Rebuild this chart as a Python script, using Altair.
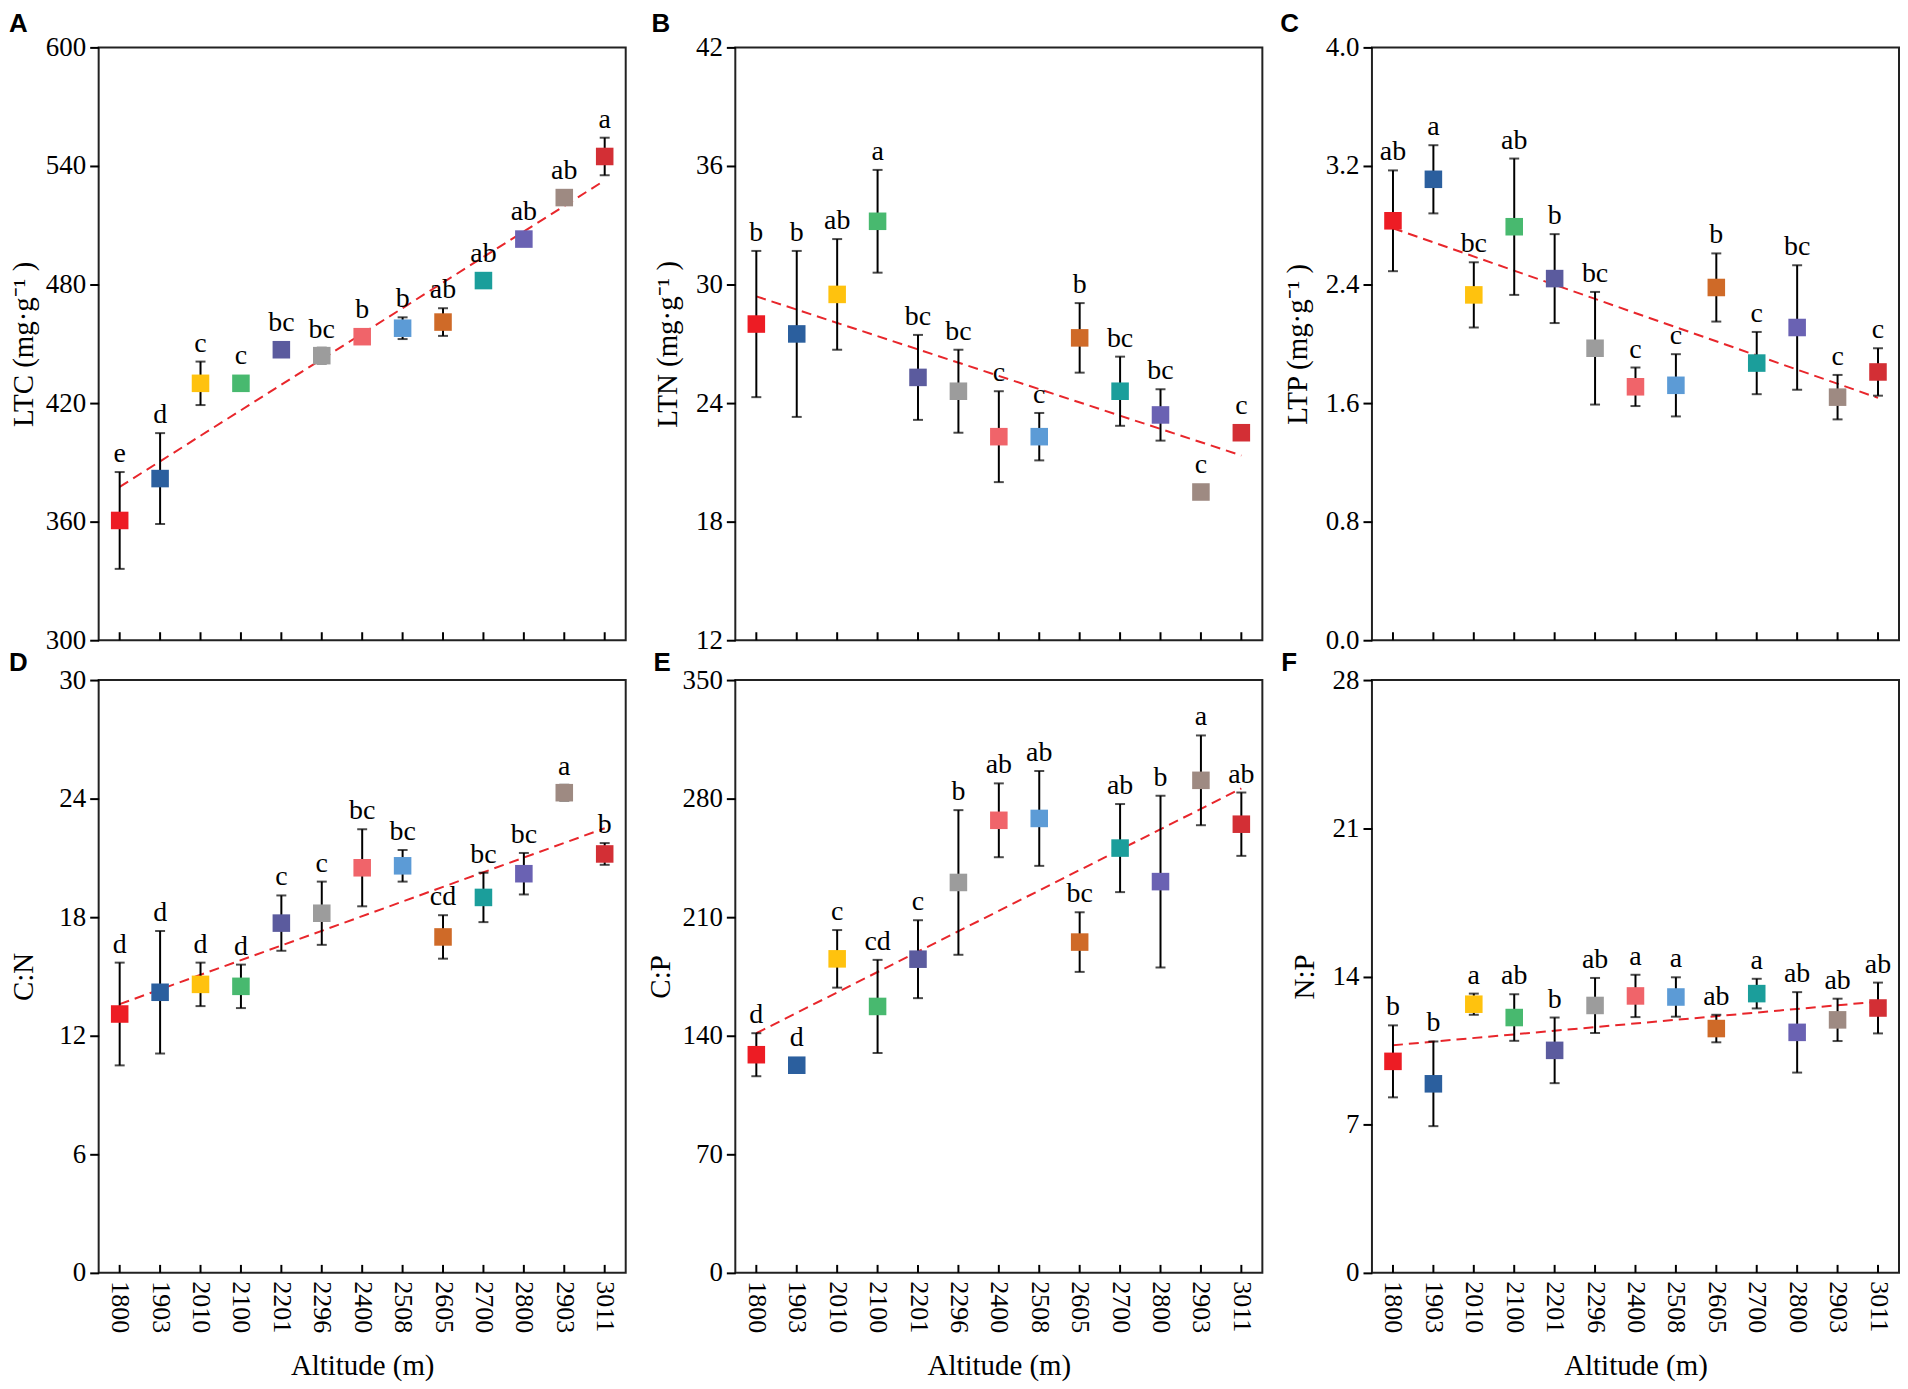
import altair as alt
import pandas as pd

altitudes = ["1800", "1903", "2010", "2100", "2201", "2296", "2400",
             "2508", "2605", "2700", "2800", "2903", "3011"]
colors = ["#ED1C24", "#2B5F9E", "#FFC20E", "#48B96F", "#5B5B9E", "#9C9C9C",
          "#F0646A", "#5C9BD6", "#CF6A28", "#1B9E9B", "#6A62B3", "#9E8A82", "#D32F35"]

# Panel A: LTC
ltc_mean = [360.6, 381.8, 430.0, 430.0, 447.0, 444.0, 453.6, 457.9, 461.0, 482.0, 503.0, 524.0, 544.8]
ltc_se = [24.5, 23.0, 11.0, 0, 0, 4.0, 0, 5.5, 7.0, 0, 0, 0, 9.5]
ltc_sig = ["e", "d", "c", "c", "bc", "bc", "b", "b", "ab", "ab", "ab", "ab", "a"]
ltc_trend = [377.6, 532.7]

# Panel B: LTN
ltn_mean = [28.0, 27.5, 29.5, 33.2, 25.3, 24.6, 22.3, 22.3, 27.3, 24.6, 23.4, 19.5, 22.5]
ltn_se = [3.7, 4.2, 2.8, 2.6, 2.15, 2.1, 2.3, 1.2, 1.76, 1.75, 1.3, 0, 0]
ltn_sig = ["b", "b", "ab", "a", "bc", "bc", "c", "c", "b", "bc", "bc", "c", "c"]
ltn_trend = [29.4, 21.35]

# Panel C: LTP
ltp_mean = [2.83, 3.11, 2.33, 2.79, 2.44, 1.97, 1.71, 1.72, 2.38, 1.87, 2.11, 1.64, 1.81]
ltp_se = [0.34, 0.23, 0.22, 0.46, 0.30, 0.38, 0.13, 0.21, 0.23, 0.21, 0.42, 0.15, 0.16]
ltp_sig = ["ab", "a", "bc", "ab", "b", "bc", "c", "c", "b", "c", "bc", "c", "c"]
ltp_trend = [2.78, 1.635]

# Panel D: C:N
cn_mean = [13.1, 14.2, 14.6, 14.5, 17.7, 18.2, 20.5, 20.6, 17.0, 19.0, 20.2, 24.3, 21.2]
cn_se = [2.6, 3.1, 1.1, 1.1, 1.4, 1.6, 1.95, 0.8, 1.1, 1.25, 1.05, 0.4, 0.55]
cn_sig = ["d", "d", "d", "d", "c", "c", "bc", "bc", "cd", "bc", "bc", "a", "b"]
cn_trend = [13.6, 22.5]

# Panel E: C:P
cp_mean = [128.8, 122.6, 185.4, 157.3, 185.2, 230.5, 267.2, 268.3, 195.3, 250.8, 231.0, 290.8, 264.9]
cp_se = [12.7, 0, 17.0, 27.5, 23.0, 42.7, 21.8, 28.0, 17.6, 26.0, 50.7, 26.5, 18.7]
cp_sig = ["d", "d", "c", "cd", "c", "b", "ab", "ab", "bc", "ab", "b", "a", "ab"]
cp_trend = [141.5, 286.0]

# Panel F: N:P
np_mean = [9.99, 8.93, 12.69, 12.06, 10.51, 12.63, 13.08, 13.03, 11.54, 13.19, 11.36, 11.95, 12.51]
np_se = [1.7, 2.0, 0.5, 1.1, 1.55, 1.3, 1.0, 0.93, 0.65, 0.7, 1.9, 1.0, 1.2]
np_sig = ["b", "b", "a", "ab", "b", "ab", "a", "a", "ab", "a", "ab", "ab", "ab"]
np_trend = [10.75, 12.81]

W, H = 529, 595


def make_panel(mean, se, sig, trend, domain, ticks, fmt, ytitle, title_x,
               letter, letter_x, letter_y, bottom):
    df = pd.DataFrame({"alt": altitudes, "mean": mean, "se": se, "sig": sig})
    df["lo"] = df["mean"] - df["se"]
    df["hi"] = df["mean"] + df["se"]

    x_scale = alt.Scale(type="point", padding=0.52, domain=altitudes)
    if bottom:
        x_axis = alt.Axis(labelAngle=90, labelPadding=8, ticks=False, domain=False,
                          title="Altitude (m)", titleY=102, titleBaseline="alphabetic",
                          labelFontSize=26, grid=False)
    else:
        x_axis = alt.Axis(labels=False, ticks=False, domain=False, title=None, grid=False)

    def xe():
        return alt.X("alt:N", scale=x_scale, axis=x_axis, sort=altitudes)

    y_scale = alt.Scale(domain=domain, nice=False, zero=False)
    y_axis = alt.Axis(values=ticks, format=fmt, title=ytitle, titleX=title_x,
                      titleBaseline="alphabetic", tickSize=9, labelPadding=4,
                      domain=False, grid=False)

    def ye(field):
        return alt.Y(field + ":Q", scale=y_scale, axis=y_axis)

    base = alt.Chart(df)
    err = base.transform_filter("datum.se > 0")
    noerr = base.transform_filter("datum.se <= 0")

    xticks = base.mark_rule(color="black", strokeWidth=2).encode(
        x=xe(), y=alt.value(H - 8), y2=alt.value(H))

    trend_df = pd.DataFrame({"alt": [altitudes[0], altitudes[-1]], "val": trend})
    trend_line = alt.Chart(trend_df).mark_line(
        color="#E8262B", strokeWidth=2, strokeDash=[10, 6]).encode(x=xe(), y=ye("val"))

    bars = err.mark_rule(color="black", strokeWidth=2).encode(
        x=xe(), y=ye("lo"), y2="hi:Q")
    cap_lo = err.mark_tick(orient="horizontal", size=10, thickness=2, color="black").encode(
        x=xe(), y=ye("lo"))
    cap_hi = err.mark_tick(orient="horizontal", size=10, thickness=2, color="black").encode(
        x=xe(), y=ye("hi"))

    squares = base.mark_square(size=310, opacity=1, filled=True).encode(
        x=xe(), y=ye("mean"),
        color=alt.Color("alt:N", scale=alt.Scale(domain=altitudes, range=colors), legend=None))

    txt1 = err.mark_text(dy=-10, baseline="alphabetic", fontSize=28,
                         font="Liberation Serif", color="black").encode(
        x=xe(), y=ye("hi"), text="sig:N")
    txt2 = noerr.mark_text(dy=-19, baseline="alphabetic", fontSize=28,
                           font="Liberation Serif", color="black").encode(
        x=xe(), y=ye("mean"), text="sig:N")

    lab = alt.Chart(pd.DataFrame({"t": [letter]})).mark_text(
        align="left", baseline="top", fontSize=26, font="Liberation Sans",
        fontWeight="bold", color="black").encode(
        x=alt.value(letter_x), y=alt.value(letter_y), text="t:N")

    return alt.layer(trend_line, bars, cap_lo, cap_hi, squares, txt1, txt2, xticks, lab
                     ).properties(width=W, height=H)


pA = make_panel(ltc_mean, ltc_se, ltc_sig, ltc_trend, [300, 600],
                [300, 360, 420, 480, 540, 600], "d", "LTC (mg·g⁻¹ )", -66, "A", -90, -36, False)
pB = make_panel(ltn_mean, ltn_se, ltn_sig, ltn_trend, [12, 42],
                [12, 18, 24, 30, 36, 42], "d", "LTN (mg·g⁻¹ )", -59, "B", -84, -36, False)
pC = make_panel(ltp_mean, ltp_se, ltp_sig, ltp_trend, [0, 4],
                [0, 0.8, 1.6, 2.4, 3.2, 4.0], ".1f", "LTP  (mg·g⁻¹ )", -66, "C", -92, -36, False)
pD = make_panel(cn_mean, cn_se, cn_sig, cn_trend, [0, 30],
                [0, 6, 12, 18, 24, 30], "d", "C:N", -66, "D", -90, -30, True)
pE = make_panel(cp_mean, cp_se, cp_sig, cp_trend, [0, 350],
                [0, 70, 140, 210, 280, 350], "d", "C:P", -66, "E", -82, -30, True)
pF = make_panel(np_mean, np_se, np_sig, np_trend, [0, 28],
                [0, 7, 14, 21, 28], "d", "N:P", -59, "F", -91, -30, True)

chart = alt.concat(pA, pB, pC, pD, pE, pF, columns=3,
                   spacing={"row": 40, "column": 110}, bounds="flush"
                   ).resolve_scale(y="independent").properties(
    padding=0
).configure_view(
    stroke="#222222", strokeWidth=2
).configure_axis(
    labelFont="Liberation Serif", titleFont="Liberation Serif",
    labelFontSize=27, titleFontSize=29, labelColor="black", titleColor="black",
    tickColor="black", tickWidth=2, titleFontWeight="normal", grid=False
)

chart.save("out.html", embed_options={"renderer": "svg", "actions": False})
